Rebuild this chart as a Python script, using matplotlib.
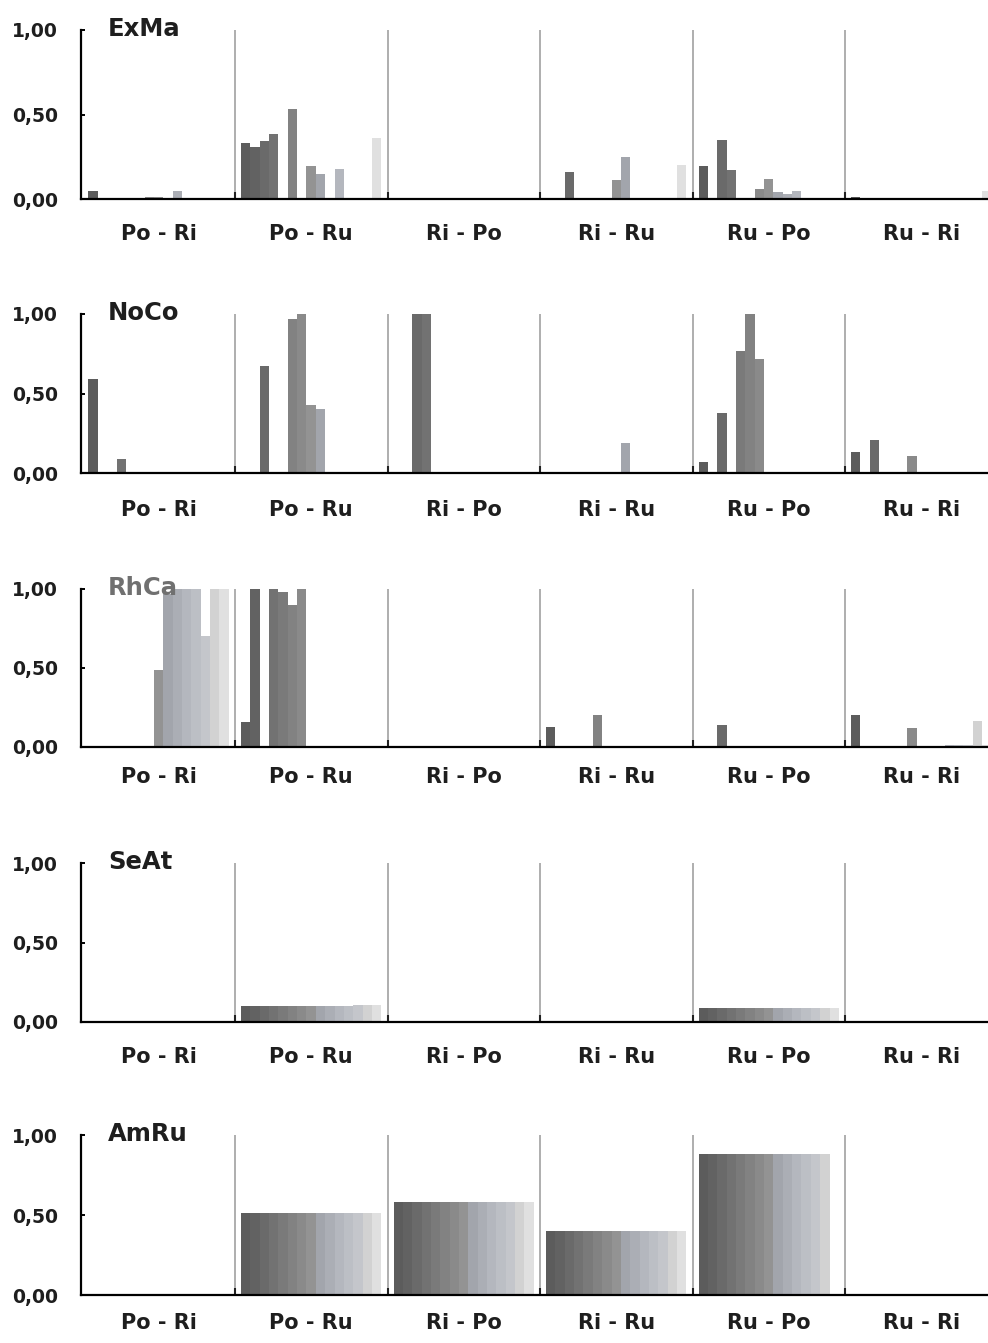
import numpy as np
import matplotlib.pyplot as plt

# pairs along the x axis, 15 bars (one per sample) in each pair
pairs = ['Po - Ri', 'Po - Ru', 'Ri - Po', 'Ri - Ru', 'Ru - Po', 'Ru - Ri']
species = ['ExMa', 'NoCo', 'RhCa', 'SeAt', 'AmRu']
ytick_vals = [0.0, 0.5, 1.0]
ytick_labels = ['0,00', '0,50', '1,00']

exma = [
    [0.05, 0, 0, 0, 0, 0, 0.01, 0.01, 0, 0.05, 0, 0, 0, 0, 0],
    [0.33, 0.31, 0.345, 0.385, 0, 0.53, 0, 0.195, 0.15, 0, 0.18, 0, 0, 0, 0.36],
    [0, 0, 0, 0, 0, 0, 0, 0, 0, 0, 0, 0, 0, 0, 0],
    [0, 0, 0.16, 0, 0, 0.005, 0.005, 0.11, 0.25, 0, 0, 0, 0, 0, 0.20],
    [0.195, 0, 0.35, 0.17, 0, 0, 0.06, 0.12, 0.04, 0.03, 0.05, 0.005, 0.005, 0, 0],
    [0.01, 0.005, 0, 0, 0, 0, 0, 0, 0, 0, 0, 0, 0, 0, 0.05],
]
noco = [
    [0.59, 0, 0, 0.09, 0, 0, 0, 0, 0, 0, 0, 0, 0, 0, 0],
    [0, 0, 0.67, 0, 0, 0.97, 1.0, 0.43, 0.40, 0, 0, 0, 0, 0, 0],
    [0, 0, 1.0, 1.0, 0, 0, 0, 0, 0, 0, 0, 0, 0, 0, 0],
    [0, 0, 0, 0, 0, 0, 0, 0, 0.19, 0, 0, 0, 0, 0, 0],
    [0.07, 0, 0.38, 0, 0.77, 1.0, 0.72, 0, 0, 0, 0, 0, 0, 0, 0],
    [0.13, 0, 0.21, 0, 0, 0, 0.11, 0, 0, 0, 0, 0, 0, 0, 0],
]
rhca = [
    [0, 0, 0, 0, 0, 0, 0, 0.49, 0.97, 1.0, 1.0, 1.0, 0.70, 1.0, 1.0],
    [0.16, 1.0, 0, 1.0, 0.98, 0.90, 1.0, 0, 0, 0, 0, 0, 0, 0, 0],
    [0, 0, 0, 0, 0, 0, 0, 0, 0, 0, 0, 0, 0, 0, 0],
    [0.125, 0, 0, 0, 0, 0.20, 0, 0, 0, 0, 0, 0, 0, 0, 0],
    [0, 0, 0.14, 0, 0, 0, 0, 0, 0, 0, 0, 0, 0, 0, 0],
    [0.20, 0, 0, 0, 0, 0, 0.12, 0, 0, 0, 0.01, 0.01, 0.01, 0.165, 0.01],
]
seat = [
    [0.005, 0.005, 0.005, 0.005, 0.005, 0.005, 0.005, 0.005, 0.005, 0.005, 0.005, 0.005, 0.005, 0.005, 0.005],
    [0.10, 0.10, 0.10, 0.10, 0.10, 0.10, 0.10, 0.10, 0.10, 0.10, 0.10, 0.10, 0.11, 0.11, 0.11],
    [0.005, 0.005, 0.005, 0.005, 0.005, 0.005, 0.005, 0.005, 0.005, 0.005, 0.005, 0.005, 0.005, 0.005, 0.005],
    [0, 0, 0, 0, 0, 0, 0, 0, 0, 0, 0, 0, 0, 0, 0],
    [0.09, 0.09, 0.09, 0.09, 0.09, 0.09, 0.09, 0.09, 0.09, 0.09, 0.09, 0.09, 0.09, 0.09, 0.09],
    [0.005, 0.005, 0.005, 0.005, 0.005, 0.005, 0.005, 0.005, 0.005, 0.005, 0, 0, 0, 0, 0],
]
amru = [
    [0, 0, 0, 0, 0, 0, 0, 0, 0, 0, 0, 0, 0, 0, 0],
    [0.51, 0.51, 0.51, 0.51, 0.51, 0.51, 0.51, 0.51, 0.51, 0.51, 0.51, 0.51, 0.51, 0.51, 0.51],
    [0.58, 0.58, 0.58, 0.58, 0.58, 0.58, 0.58, 0.58, 0.58, 0.58, 0.58, 0.58, 0.58, 0.58, 0.58],
    [0.40, 0.40, 0.40, 0.40, 0.40, 0.40, 0.40, 0.40, 0.40, 0.40, 0.40, 0.40, 0.40, 0.40, 0.40],
    [0.88, 0.88, 0.88, 0.88, 0.88, 0.88, 0.88, 0.88, 0.88, 0.88, 0.88, 0.88, 0.88, 0.88, 0],
    [0, 0, 0, 0, 0, 0, 0, 0, 0, 0, 0, 0, 0, 0, 0],
]
all_data = [exma, noco, rhca, seat, amru]

# one shade per bar position, dark grey -> faintly bluish grey -> very light
bar_colors = ['#5c5c5c', '#626262', '#6a6a6a', '#727272', '#7a7a7a',
              '#828282', '#8a8a8a', '#939393', '#a2a5ac', '#abaeb5',
              '#b4b7be', '#bcbfc5', '#c4c6cb', '#d2d2d2', '#e0e0e0']

W, H = 988, 1343
G = 16.3        # width of one pair in bar units
OFF = 0.64      # gap before first bar of a pair
# (top px of 1,00 ; bottom px of 0,00) for each panel
rows = [(30, 199), (314, 473), (589, 747), (863, 1022), (1135, 1295)]
label_drop = [41, 43, 36, 41, 34]   # px from axis to label baseline
title_colors = ['#1e1e1e', '#1e1e1e', '#707070', '#1e1e1e', '#1e1e1e']

fig = plt.figure(figsize=(W / 100, H / 100), dpi=100)
px = 72 / 100  # points per pixel

left = 81 / W
for i, name in enumerate(species):
    top, bot = rows[i]
    ax = fig.add_axes([left, 1 - bot / H, 1 - left, (bot - top) / H])
    data = all_data[i]
    for g in range(len(pairs)):
        x = g * G + OFF + np.arange(15) + 0.5
        ax.bar(x, data[g], width=1.0, color=bar_colors, linewidth=0, zorder=2)

    seps = [g * G for g in range(1, len(pairs))]
    ax.vlines(seps, 0, 1, color='#999999', lw=1.1, zorder=1)

    ax.set_xlim(-0.16, 96.78)
    ax.set_ylim(0, 1)
    for s in ['top', 'right']:
        ax.spines[s].set_visible(False)
    ax.spines['left'].set_bounds(0, 1)
    ax.spines['left'].set_linewidth(1.6)
    ax.spines['bottom'].set_linewidth(1.6)
    ax.spines['left'].set_zorder(3)
    ax.spines['bottom'].set_zorder(3)

    ax.set_yticks(ytick_vals)
    ax.set_yticklabels(ytick_labels, fontsize=13.5, fontweight='bold', color='#1e1e1e')
    ax.tick_params(axis='y', direction='in', length=3, width=1.4, pad=23 * px)

    ax.set_xticks(seps, minor=True)
    ax.set_xticks([])
    ax.tick_params(axis='x', which='minor', direction='in', length=5, width=1.5, color='#222222')

    for g, lab in enumerate(pairs):
        ax.annotate(lab, xy=(g * G + G / 2, 0), xycoords=('data', 'axes fraction'),
                    xytext=(0, -label_drop[i] * px), textcoords='offset points',
                    ha='center', va='baseline', fontsize=15, fontweight='bold',
                    color='#1e1e1e', annotation_clip=False)

    ax.annotate(name, xy=(0, 1), xycoords='axes fraction',
                xytext=(27 * px, -6 * px), textcoords='offset points',
                ha='left', va='baseline', fontsize=17.5, fontweight='bold',
                color=title_colors[i], zorder=5)

fig.savefig('out.png', dpi=100)
